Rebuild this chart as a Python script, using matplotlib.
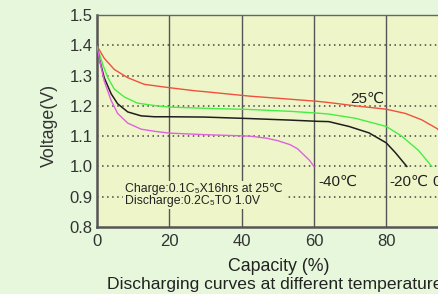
import matplotlib
matplotlib.use("Agg")
import matplotlib.pyplot as plt

plt.rcParams['font.family'] = ['Liberation Sans', 'DejaVu Sans']

# Data (capacity %, voltage V)
cap_25 = [0, 2, 4.8, 8.5, 13.1, 20, 26.9, 29.7, 42.3, 53.4, 60.9, 64.1, 71.5, 80, 85.3, 89.8, 94.2, 97, 100]
v_25 = [1.398, 1.357, 1.32, 1.293, 1.271, 1.26, 1.25, 1.247, 1.232, 1.222, 1.215, 1.211, 1.2, 1.189, 1.175, 1.154, 1.124, 1.08, 1.02]

cap_0 = [0, 1.6, 3, 4.8, 7.6, 11.2, 15.9, 20, 29.7, 42.3, 53.4, 60.9, 64.1, 71.5, 80, 84.3, 89, 92.6]
v_0 = [1.398, 1.336, 1.293, 1.255, 1.229, 1.209, 1.201, 1.196, 1.192, 1.188, 1.182, 1.176, 1.173, 1.159, 1.132, 1.1, 1.052, 1.0]

cap_m20 = [0, 0.6, 2, 3.9, 5.7, 8.5, 12.2, 15.9, 20, 29.7, 42.3, 53.4, 60.9, 64.1, 69.7, 75.2, 80, 82.5, 85.7]
v_m20 = [1.398, 1.357, 1.293, 1.24, 1.207, 1.18, 1.167, 1.164, 1.164, 1.163, 1.158, 1.153, 1.149, 1.148, 1.132, 1.111, 1.078, 1.046, 1.0]

cap_m40 = [0, 0.6, 2, 3.9, 5.7, 8.5, 12.2, 15.9, 20, 29.7, 42.3, 47, 50, 53.4, 55.5, 57.5, 58.8, 60]
v_m40 = [1.398, 1.357, 1.282, 1.218, 1.175, 1.143, 1.123, 1.116, 1.11, 1.105, 1.10, 1.093, 1.085, 1.072, 1.058, 1.035, 1.02, 1.0]

x_ticks = [0, 20, 40, 60, 80, 100]
y_ticks = [0.8, 0.9, 1.0, 1.1, 1.2, 1.3, 1.4, 1.5]
temp_labels = ["25\u2103", "0\u2103", "-20\u2103", "-40\u2103"]

fig_bg = '#e6f7dc'
ax_bg = '#eef6c9'

fig = plt.figure(figsize=(4.39, 2.94), dpi=100, facecolor=fig_bg)
ax = fig.add_axes([97/439, 1 - 227/294, 361.5/439, (227 - 15)/294])
ax.set_facecolor(ax_bg)

ax.set_xlim(0, 100)
ax.set_ylim(0.8, 1.5)
ax.set_xticks(x_ticks)
ax.set_yticks(y_ticks)
ax.set_yticklabels([f"{v:.1f}" for v in y_ticks])
ax.tick_params(length=0, labelsize=12, colors='#333333')
ax.tick_params(axis='x', pad=5)
ax.tick_params(axis='y', pad=3)

# grid: vertical solid, horizontal dotted
for xv in x_ticks[1:-1]:
    ax.axvline(xv, color='#555555', lw=1.0, zorder=1)
for yv in y_ticks[1:-1]:
    ax.axhline(yv, color='#444444', lw=1.1, linestyle=(0, (1, 2.3)), zorder=1)

for s in ['left', 'bottom']:
    ax.spines[s].set_color('#555555')
    ax.spines[s].set_linewidth(1.8)
ax.spines['top'].set_color('#666666')
ax.spines['top'].set_linewidth(1.0)
ax.spines['right'].set_visible(False)

ax.plot(cap_25, v_25, color='#f0503c', lw=1.0, zorder=3)
ax.plot(cap_0, v_0, color='#44ee44', lw=1.0, zorder=3)
ax.plot(cap_m20, v_m20, color='#1e1e1e', lw=1.1, zorder=3)
ax.plot(cap_m40, v_m40, color='#e060e0', lw=1.0, zorder=3)

ax.text(70.0, 1.223, temp_labels[0], fontsize=11, color='#222222', va='center', ha='left', zorder=4)
ax.text(92.7, 0.948, temp_labels[1], fontsize=11, color='#222222', va='center', ha='left', zorder=4)
ax.text(81.0, 0.948, temp_labels[2], fontsize=11, color='#222222', va='center', ha='left', zorder=4)
ax.text(61.1, 0.948, temp_labels[3], fontsize=11, color='#222222', va='center', ha='left', zorder=4)

ax.text(7.7, 0.905, "Charge:0.1C\u2085X16hrs at 25\u2103\nDischarge:0.2C\u2085TO 1.0V",
        fontsize=8.8, color='#222222', va='center', ha='left', linespacing=1.0,
        bbox=dict(facecolor=ax_bg, edgecolor='none', pad=1.5), zorder=2)

ax.set_ylabel("Voltage(V)", fontsize=12.8, color='#333333')
ax.yaxis.set_label_coords(-0.108, 0.48)
ax.set_xlabel("Capacity (%)", fontsize=12.8, color='#222222')
ax.xaxis.set_label_coords(0.503, -0.146)

fig.text(107/439, 1 - 285/294, "Discharging curves at different temperatures",
         fontsize=12.6, color='#222222', ha='left', va='center')

fig.savefig("out.png", dpi=100, facecolor=fig_bg)
